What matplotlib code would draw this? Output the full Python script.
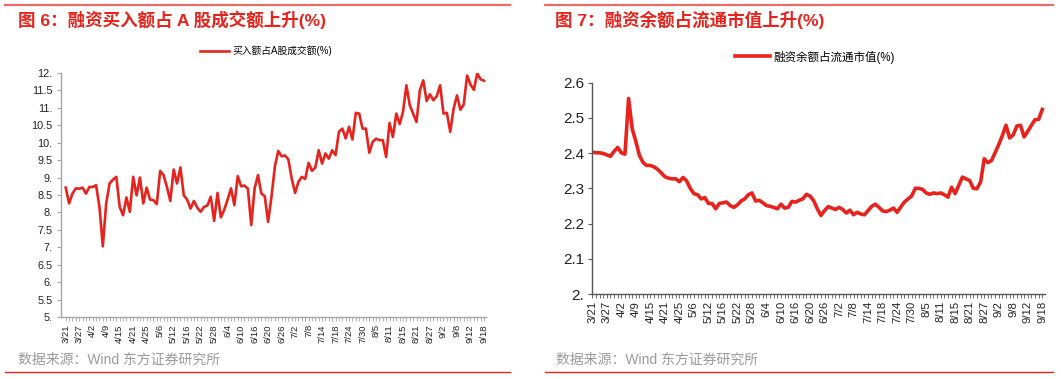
import matplotlib
matplotlib.use("Agg")
import matplotlib.pyplot as plt
from matplotlib.lines import Line2D

plt.rcParams['font.family'] = ['Liberation Sans', 'Noto Sans CJK SC', 'DejaVu Sans']
plt.rcParams['axes.unicode_minus'] = False

RED = '#E8221C'
GRAY_TXT = '#9A9A9A'

# x tick labels (every 4th trading day, 3/21 .. 9/18)
tick_labels = ['3/21', '3/27', '4/2', '4/9', '4/15', '4/21', '4/25', '5/6',
               '5/12', '5/16', '5/22', '5/28', '6/4', '6/10', '6/16', '6/20',
               '6/26', '7/2', '7/8', '7/14', '7/18', '7/24', '7/30', '8/5',
               '8/11', '8/15', '8/21', '8/27', '9/2', '9/8', '9/12', '9/18']

# 融资买入额占A股成交额(%)
buy_ratio = [
    8.71, 8.26, 8.54, 8.69, 8.68, 8.71, 8.54, 8.73, 8.73, 8.78,
    8.16, 7.03, 8.26, 8.83, 8.94, 9.02, 8.16, 7.92, 8.43, 8.02,
    9.02, 8.49, 9.00, 8.26, 8.71, 8.37, 8.35, 8.24, 9.19, 9.07,
    8.73, 8.33, 9.23, 8.83, 9.29, 8.49, 8.37, 8.11, 8.33, 8.14,
    8.02, 8.16, 8.20, 8.45, 7.76, 8.56, 7.86, 8.08, 8.37, 8.69,
    8.21, 9.04, 8.75, 8.77, 8.68, 7.64, 8.69, 9.07, 8.54, 8.47,
    7.73, 8.45, 9.31, 9.76, 9.61, 9.63, 9.52, 8.97, 8.56, 8.88,
    9.02, 8.96, 9.42, 9.19, 9.29, 9.78, 9.40, 9.69, 9.54, 9.78,
    9.64, 10.31, 10.40, 10.12, 10.45, 10.09, 10.85, 10.83, 10.40, 10.40,
    9.71, 10.02, 10.11, 10.07, 10.07, 9.59, 10.56, 10.16, 10.83, 10.53,
    10.88, 11.64, 11.07, 10.83, 10.59, 11.50, 11.78, 11.19, 11.38, 11.21,
    11.33, 11.64, 10.83, 10.85, 10.31, 10.97, 11.35, 10.94, 11.09, 11.92,
    11.66, 11.51, 11.98, 11.81, 11.77,
]

# 融资余额占流通市值(%)
margin_ratio = [
    2.403, 2.401, 2.401, 2.399, 2.395, 2.391, 2.405, 2.416, 2.401, 2.397,
    2.555, 2.469, 2.433, 2.393, 2.373, 2.365, 2.365, 2.361, 2.354, 2.344,
    2.333, 2.329, 2.327, 2.327, 2.319, 2.331, 2.321, 2.300, 2.285, 2.282,
    2.270, 2.274, 2.257, 2.257, 2.242, 2.257, 2.259, 2.261, 2.251, 2.246,
    2.253, 2.264, 2.270, 2.282, 2.287, 2.264, 2.266, 2.259, 2.251, 2.249,
    2.246, 2.242, 2.255, 2.244, 2.246, 2.263, 2.261, 2.266, 2.270, 2.283,
    2.278, 2.265, 2.242, 2.223, 2.237, 2.248, 2.244, 2.240, 2.246, 2.240,
    2.230, 2.238, 2.225, 2.232, 2.227, 2.225, 2.237, 2.249, 2.255, 2.246,
    2.236, 2.234, 2.238, 2.244, 2.232, 2.247, 2.261, 2.270, 2.278, 2.300,
    2.300, 2.297, 2.287, 2.283, 2.287, 2.285, 2.287, 2.282, 2.275, 2.303,
    2.285, 2.309, 2.332, 2.327, 2.322, 2.300, 2.299, 2.318, 2.384, 2.373,
    2.379, 2.401, 2.424, 2.450, 2.479, 2.443, 2.452, 2.477, 2.479, 2.446,
    2.462, 2.479, 2.495, 2.496, 2.524,
]

left_yticks = [5, 5.5, 6, 6.5, 7, 7.5, 8, 8.5, 9, 9.5, 10, 10.5, 11, 11.5, 12]
right_yticks = [2.0, 2.1, 2.2, 2.3, 2.4, 2.5, 2.6]

W, H = 1061, 379


def fx(px):
    return px / W


def fy(py):
    return 1 - py / H


def ylabel_text(v, nd):
    if abs(v - round(v)) < 1e-9:
        return f"{int(round(v))}."
    return f"{v:.{nd}f}"


def style_axis(ax, n, spine_color, ylab_size, xlab_size):
    for s in ['top', 'right']:
        ax.spines[s].set_visible(False)
    for s in ['left', 'bottom']:
        ax.spines[s].set_color(spine_color)
        ax.spines[s].set_linewidth(1.0)
    major = list(range(0, n, 4))
    ax.set_xticks(major)
    ax.set_xticklabels(tick_labels[:len(major)], rotation=90, fontsize=xlab_size,
                       color='#222222')
    ax.set_xticks(list(range(n)), minor=True)
    ax.tick_params(axis='x', which='both', direction='out', length=3, width=0.6,
                   color=spine_color, pad=2)
    ax.tick_params(axis='y', direction='out', length=3, width=0.8,
                   color=spine_color, labelsize=ylab_size, labelcolor='#222222', pad=3)


fig = plt.figure(figsize=(W / 100, H / 100), dpi=100)

# ---- left panel ----
n = len(buy_ratio)
ax1 = fig.add_axes([fx(61), fy(317.3), fx(486 - 61), (317.3 - 72.7) / H])
ax1.plot(range(n), buy_ratio, color=RED, linewidth=1.9, solid_joinstyle='round',
         label='买入额占A股成交额(%)')
ax1.set_xlim(-1.4, 124.6)
ax1.set_ylim(5, 12)
ax1.set_yticks(left_yticks)
ax1.set_yticklabels([ylabel_text(v, 1) for v in left_yticks])
style_axis(ax1, n, '#A6A6A6', 7.8, 6.8)
ax1.legend(loc='center left', bbox_to_anchor=(fx(200), fy(51)),
           bbox_transform=fig.transFigure, frameon=False, fontsize=7,
           handlelength=3.0, handletextpad=0.3, borderpad=0, borderaxespad=0)

# ---- right panel ----
m = len(margin_ratio)
ax2 = fig.add_axes([fx(592.3), fy(294), fx(1045 - 592.3), (294 - 82.7) / H])
ax2.plot(range(m), margin_ratio, color=RED, linewidth=2.6, solid_joinstyle='round',
         label='融资余额占流通市值(%)')
ax2.set_xlim(0, 124.75)
ax2.set_ylim(2.0, 2.6)
ax2.set_yticks(right_yticks)
ax2.set_yticklabels([ylabel_text(v, 1) for v in right_yticks])
style_axis(ax2, m, '#555555', 11, 8.2)
ax2.legend(loc='center left', bbox_to_anchor=(fx(735), fy(57)),
           bbox_transform=fig.transFigure, frameon=False, fontsize=8.3,
           handlelength=3.0, handletextpad=0.3, borderpad=0, borderaxespad=0)

# ---- titles, sources and frame lines ----
fig.text(fx(18), fy(20), '图 6：融资买入额占 A 股成交额上升(%)', color=RED,
         fontsize=12.6, fontweight='bold', va='center', ha='left')
fig.text(fx(555), fy(20), '图 7：融资余额占流通市值上升(%)', color=RED,
         fontsize=12.6, fontweight='bold', va='center', ha='left')
fig.text(fx(18), fy(360), '数据来源：Wind 东方证券研究所', color=GRAY_TXT,
         fontsize=10, va='center', ha='left')
fig.text(fx(556), fy(360), '数据来源：Wind 东方证券研究所', color=GRAY_TXT,
         fontsize=10, va='center', ha='left')

for x0, x1 in [(5, 510), (545, 1053)]:
    fig.add_artist(Line2D([fx(x0), fx(x1)], [fy(5), fy(5)], color='#EE6B66', linewidth=1.6))
    fig.add_artist(Line2D([fx(x0), fx(x1)], [fy(372), fy(372)], color=RED, linewidth=1.0))

fig.savefig('out.png', dpi=100)
